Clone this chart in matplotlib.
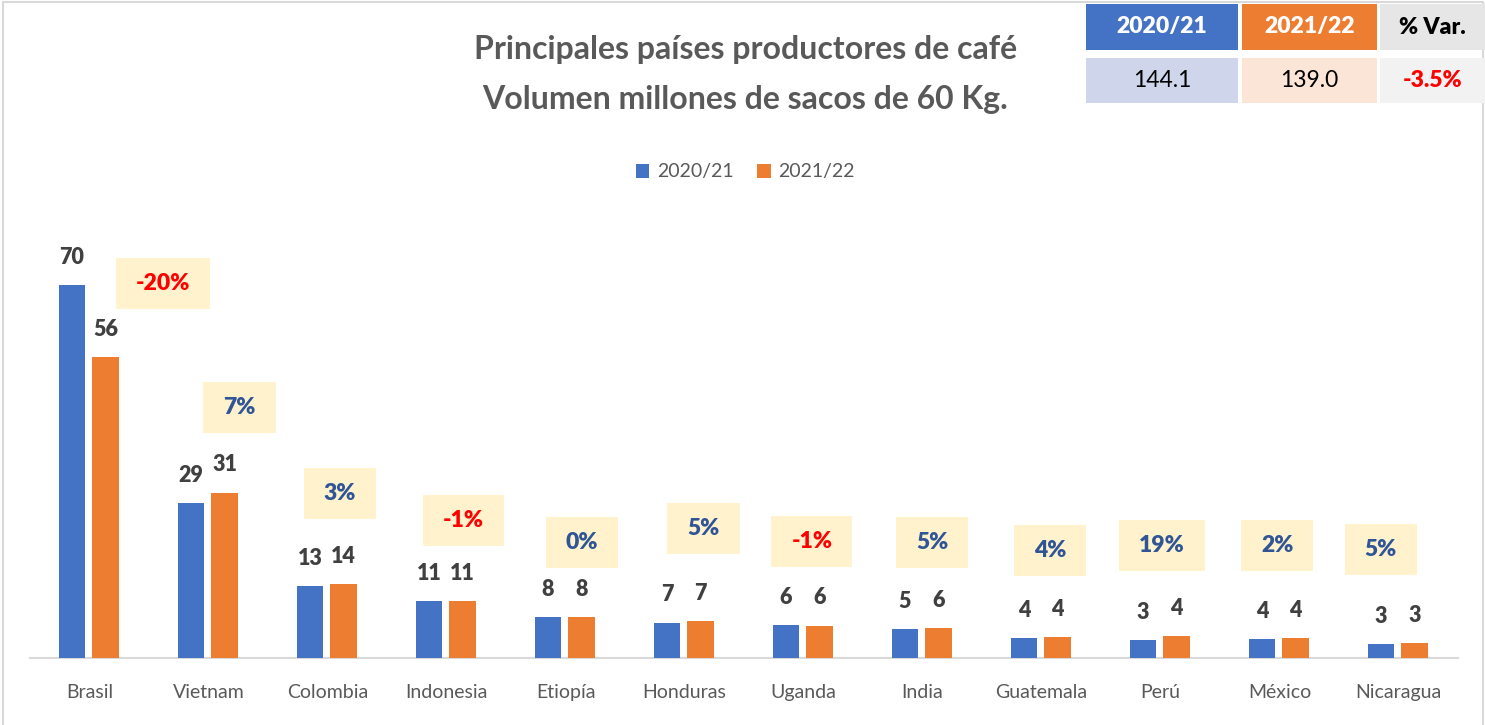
import matplotlib
matplotlib.use("Agg")
import matplotlib.pyplot as plt
import numpy as np
from matplotlib.patches import Rectangle

# Data (millones de sacos de 60 Kg)
countries = ["Brasil", "Vietnam", "Colombia", "Indonesia", "Etiopía", "Honduras",
             "Uganda", "India", "Guatemala", "Perú", "México", "Nicaragua"]
prod_2020 = [69.9, 29.0, 13.4, 10.7, 7.6, 6.6, 6.1, 5.4, 3.7, 3.4, 3.6, 2.6]
prod_2021 = [56.3, 31.0, 13.8, 10.6, 7.6, 6.93, 6.04, 5.65, 3.85, 4.05, 3.68, 2.73]
var_labels = ["-20%", "7%", "3%", "-1%", "0%", "5%", "-1%", "5%", "4%", "19%", "2%", "5%"]

series = ["2020/21", "2021/22"]
total_2020 = "144.1"
total_2021 = "139.0"
total_var = "-3.5%"

# where the hand-placed variation boxes sit (category offset, y in data units)
box_dx = [0.62, 0.26, 0.105, 0.14, 0.14, 0.16, 0.07, 0.08, 0.07, 0.01, -0.02, -0.15]
box_y = [70.2, 47.0, 30.9, 25.8, 21.7, 24.3, 21.9, 21.7, 20.2, 21.0, 21.0, 20.4]

BLUE = "#4472C4"
ORANGE = "#ED7D31"
GRAY_TXT = "#595959"
DARK = "#404040"

plt.rcParams["font.family"] = ["Lato", "DejaVu Sans"]

W, H = 1485, 725
fig = plt.figure(figsize=(W / 100, H / 100), dpi=100)
ax = fig.add_axes([30 / W, 67 / H, 1428 / W, 427 / H])

x = np.arange(len(countries))
bw = 0.22
b1 = ax.bar(x - 0.147, prod_2020, bw, color=BLUE, label=series[0], zorder=3)
b2 = ax.bar(x + 0.134, prod_2021, bw, color=ORANGE, label=series[1], zorder=3)

for bars, vals in [(b1, prod_2020), (b2, prod_2021)]:
    for rect, v in zip(bars, vals):
        ax.annotate(f"{v:.0f}", (rect.get_x() + rect.get_width() / 2, v),
                    xytext=(0, 20), textcoords="offset points",
                    ha="center", va="center", fontsize=15.5, fontweight="heavy",
                    color=DARK)

ax.set_xlim(-0.5, len(countries) - 0.5)
ax.set_ylim(0, 80)
ax.set_xticks(x)
ax.set_xticklabels(countries, fontsize=14, color=GRAY_TXT)
ax.tick_params(axis="x", length=0, pad=19)
ax.set_yticks([])
for s in ["top", "right", "left"]:
    ax.spines[s].set_visible(False)
ax.spines["bottom"].set_color("#D9D9D9")
ax.spines["bottom"].set_linewidth(1.5)

# variation labels in yellow boxes
var_texts = []
for i, lab in enumerate(var_labels):
    col = "#FF0000" if lab.startswith("-") else "#2F5597"
    t = ax.text(i + box_dx[i], box_y[i], lab, ha="center", va="center",
                fontsize=16.5, fontweight="heavy", color=col, zorder=6)
    var_texts.append(t)

fig.canvas.draw()
renderer = fig.canvas.get_renderer()
inv = ax.transData.inverted()
for t in var_texts:
    bb = t.get_window_extent(renderer)
    cx = (bb.x0 + bb.x1) / 2
    cy = (bb.y0 + bb.y1) / 2
    half_w = bb.width / 2 + 20
    half_h = 25.5
    (dx0, dy0) = inv.transform((cx - half_w, cy - half_h))
    (dx1, dy1) = inv.transform((cx + half_w, cy + half_h))
    ax.add_patch(Rectangle((dx0, dy0), dx1 - dx0, dy1 - dy0, facecolor="#FFF2CC",
                           edgecolor="none", zorder=5, clip_on=False))

# title
fig.text(0.502, 1 - 50 / H, "Principales países productores de café", ha="center",
         va="center", fontsize=23, fontweight="bold", color=GRAY_TXT)
fig.text(0.502, 1 - 100 / H, "Volumen millones de sacos de 60 Kg.", ha="center",
         va="center", fontsize=23, fontweight="bold", color=GRAY_TXT)

# legend
ax.legend(loc="center", bbox_to_anchor=(0.502, 1 - 172 / H),
          bbox_transform=fig.transFigure, ncol=2, frameon=False, fontsize=14,
          handlelength=0.7, handleheight=0.7, handletextpad=0.4, columnspacing=1.2,
          labelcolor=GRAY_TXT)

# border around chart area
fig.patches.append(Rectangle((2.5 / W, -0.01), (1483 - 2.5) / W, 1 - 1.5 / H + 0.01,
                             transform=fig.transFigure, fill=False,
                             edgecolor="#D9D9D9", linewidth=1.5, zorder=0))

# summary table (top right)
cols = [(1086, 1238), (1242, 1377), (1380, 1485)]
rows = [(4, 50), (58, 103)]
header_bg = [BLUE, ORANGE, "#E7E6E6"]
body_bg = ["#CFD5EA", "#FBE5D6", "#F2F2F2"]
header_txt = [series[0], series[1], "% Var."]
header_col = ["white", "white", "black"]
body_txt = [total_2020, total_2021, total_var]
body_col = ["black", "black", "#FF0000"]
body_w = ["normal", "normal", "heavy"]

for j, (cx0, cx1) in enumerate(cols):
    for r, (ry0, ry1) in enumerate(rows):
        bg = header_bg[j] if r == 0 else body_bg[j]
        fig.patches.append(Rectangle((cx0 / W, 1 - ry1 / H), (cx1 - cx0) / W,
                                     (ry1 - ry0) / H, transform=fig.transFigure,
                                     facecolor=bg, edgecolor="none", zorder=2))
        if r == 0:
            txt, c, w = header_txt[j], header_col[j], "heavy"
        else:
            txt, c, w = body_txt[j], body_col[j], body_w[j]
        fig.text((cx0 + cx1) / 2 / W, 1 - (ry0 + ry1) / 2 / H, txt, ha="center",
                 va="center", fontsize=16.5, fontweight=w, color=c, zorder=3)

fig.savefig("out.png", dpi=100)
